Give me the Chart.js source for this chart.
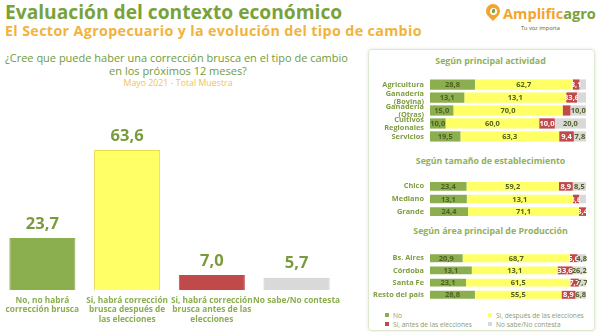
<!DOCTYPE html>
<html>
<head>
<meta charset="utf-8">
<script src="https://cdn.jsdelivr.net/npm/chart.js@4.4.0/dist/chart.umd.min.js"></script>
<style>
  body { margin:0; width:600px; height:332px; background:#fff; position:relative; overflow:hidden; font-family:"Open Sans", sans-serif; }
  .abs { position:absolute; white-space:nowrap; }
  #title { left:5px; top:-2px; font-size:19.2px; font-weight:bold; color:#79a23a; }
  #subtitle { left:5px; top:21px; font-size:14.3px; font-weight:bold; color:#f2b33d; letter-spacing:0.35px; }
  #q1 { left:5px; top:50px; font-size:11px; color:#6f9c3a; }
  #q2 { left:0; width:356px; text-align:center; top:63px; font-size:11px; color:#6f9c3a; }
  #q3 { left:0; width:356px; text-align:center; top:77px; font-size:8.8px; color:#f2c255; }
  #panel { left:368px; top:49px; width:225px; height:280px; border:1px solid #dce9cf; border-radius:4px; box-shadow:0 0 3px rgba(150,180,120,0.35); }
  .sec { left:368px; width:245px; text-align:center; font-size:8.8px; font-weight:bold; color:#8fb15a; }
  .leg { font-size:6.6px; color:#8c9c70; }
  .leg i { display:inline-block; width:4px; height:4px; margin-right:4px; vertical-align:1px; }
  canvas { position:absolute; }
</style>
</head>
<body>
<div class="abs" id="title">Evaluación del contexto económico</div>
<div class="abs" id="subtitle">El Sector Agropecuario y la evolución del tipo de cambio</div>
<div class="abs" id="q1">¿Cree que puede haber una corrección brusca en el tipo de cambio</div>
<div class="abs" id="q2">en los próximos 12 meses?</div>
<div class="abs" id="q3">Mayo 2021 - Total Muestra</div>

<!-- logo -->
<div class="abs" style="left:486px;top:4px;width:14px;height:14px;background:#f3a42c;border-radius:50% 50% 50% 0;transform:rotate(-45deg);"></div>
<div class="abs" style="left:489.5px;top:7.5px;width:7px;height:7px;background:#fff;border-radius:50%;"></div>
<div class="abs" style="left:491.5px;top:9px;width:3.5px;height:3.5px;background:#79a23a;border-radius:50% 0;"></div>
<div class="abs" style="left:503px;top:3px;font-size:14.6px;font-weight:bold;color:#f3a42c;">Amplific<span style="color:#79a23a">agro</span></div>
<div class="abs" style="left:521px;top:24px;font-size:5.6px;color:#4d6a2a;">Tu voz importa</div>

<div class="abs" id="panel"></div>
<div class="abs sec" style="top:55px;">Según principal actividad</div>
<div class="abs sec" style="top:155px;">Según tamaño de establecimiento</div>
<div class="abs sec" style="top:225px;">Según área principal de Producción</div>

<div class="abs leg" style="left:385px;top:311px;"><i style="background:#8bae4f"></i>No</div>
<div class="abs leg" style="left:488px;top:311px;"><i style="background:#ffff66"></i>Si, después de las elecciones</div>
<div class="abs leg" style="left:385px;top:320px;"><i style="background:#c0494a"></i>Si, antes de las elecciones</div>
<div class="abs leg" style="left:488px;top:320px;"><i style="background:#d9d9d9"></i>No sabe/No contesta</div>

<canvas id="totalGraph" width="345" height="207" style="left:0;top:125px;"></canvas>
<canvas id="actividadGraph" width="225" height="85" style="left:365px;top:68px;"></canvas>
<canvas id="tamanoGraph" width="225" height="58" style="left:365px;top:170px;"></canvas>
<canvas id="areaGraph" width="225" height="69" style="left:365px;top:242px;"></canvas>

<script>
// total sample
var totalLabels = [["No, no habrá","corrección brusca"],["Si, habrá corrección","brusca después de","las elecciones"],["Si, habrá corrección","brusca antes de las","elecciones"],"No sabe/No contesta"];
var totalValues = [23.7, 63.6, 7.0, 5.7];

// by activity (bar lengths as drawn, texts as printed)
var actividadLabels = ["Agricultura",["Ganadería","(Bovina)"],["Ganadería","(Otras)"],["Cultivos","Regionales"],"Servicios"];
var actividadNo = [28.8, 22.0, 15.0, 10.0, 19.5];
var actividadDespues = [62.7, 65.3, 70.0, 60.0, 63.3];
var actividadAntes = [4.3, 6.9, 5.0, 10.0, 9.4];
var actividadNs = [4.2, 5.8, 10.0, 20.0, 7.8];
var actividadNoTxt = ["28,8","13,1","15,0","10,0","19,5"];
var actividadDespuesTxt = ["62,7","13,1","70,0","60,0","63,3"];
var actividadAntesTxt = ["3,1","33,6","","10,0","9,4"];
var actividadNsTxt = ["","","10,0","20,0","7,8"];

// by size
var tamanoLabels = ["Chico","Mediano","Grande"];
var tamanoNo = [23.4, 23.6, 24.4];
var tamanoDespues = [59.2, 68.0, 71.1];
var tamanoAntes = [8.9, 3.9, 4.5];
var tamanoNs = [8.5, 4.5, 0];
var tamanoNoTxt = ["23,4","13,1","24,4"];
var tamanoDespuesTxt = ["59,2","13,1","71,1"];
var tamanoAntesTxt = ["8,9","3,6","3,4"];
var tamanoNsTxt = ["8,5","",""];

// by area
var areaLabels = ["Bs. Aires","Córdoba","Santa Fe","Resto del país"];
var areaNo = [20.9, 26.8, 23.1, 28.8];
var areaDespues = [68.7, 55.0, 66.9, 55.5];
var areaAntes = [4.9, 9.6, 5.3, 8.9];
var areaNs = [5.5, 8.6, 4.7, 6.8];
var areaNoTxt = ["20,9","13,1","23,1","28,8"];
var areaDespuesTxt = ["68,7","13,1","61,5","55,5"];
var areaAntesTxt = ["5,6","33,6","7,7","8,9"];
var areaNsTxt = ["4,8","26,2","7,7","6,8"];

var green = "#8bae4f", yellow = "#ffff66", red = "#c0494a", grey = "#d9d9d9";

// value on top of the total bars
var topLabels = {
    id: 'topLabels',
    afterDatasetsDraw: function(chart){
        var ctx = chart.ctx;
        var meta = chart.getDatasetMeta(0);
        ctx.save();
        ctx.font = "bold 16.5px 'Open Sans'";
        ctx.fillStyle = "#7a9b3c";
        ctx.textAlign = "center";
        ctx.textBaseline = "middle";
        meta.data.forEach(function(bar, i){
            ctx.fillText(totalValues[i].toFixed(1).replace('.', ','), bar.x, bar.y - 14);
        });
        ctx.restore();
    }
};

var totalChart = new Chart(document.getElementById("totalGraph"), {
    type: 'bar',
    data: {
        labels: totalLabels,
        datasets: [{
            data: totalValues,
            backgroundColor: [green, yellow, red, grey],
            borderColor: [green, "#e8d84c", red, "#c6c6c6"],
            borderWidth: 1,
            barPercentage: 0.78,
            categoryPercentage: 1
        }]
    },
    options: {
        responsive: false,
        animation: false,
        layout: { padding: { top: 11, bottom: 3, left: 0, right: 0 } },
        plugins: { legend: { display: false }, tooltip: { enabled: false } },
        scales: {
            x: {
                grid: { display: false, drawTicks: false },
                border: { display: false },
                ticks: { maxRotation: 0, autoSkip: false, padding: 5, color: "#8bae4f",
                         font: { family: "'Open Sans'", size: 8.3, weight: 'bold', lineHeight: 1.15 } }
            },
            y: { display: false, min: 0, max: 70 }
        }
    },
    plugins: [topLabels]
});

// numbers inside the stacked segments
var segLabels = {
    id: 'segLabels',
    afterDatasetsDraw: function(chart){
        var ctx = chart.ctx;
        var texts = chart.options.segTexts;
        ctx.save();
        ctx.font = "bold 7.5px 'Open Sans'";
        ctx.textAlign = "center";
        ctx.textBaseline = "middle";
        chart.data.datasets.forEach(function(ds, d){
            var meta = chart.getDatasetMeta(d);
            meta.data.forEach(function(bar, i){
                var t = texts[d][i];
                if (!t) return;
                var x0 = Math.min(bar.base, bar.x), x1 = Math.max(bar.base, bar.x);
                ctx.save();
                ctx.beginPath();
                ctx.rect(x0 - 1, bar.y - bar.height / 2, x1 - x0 + 2, bar.height);
                ctx.clip();
                ctx.fillStyle = d == 2 ? "#fff" : "#4f5f20";
                ctx.fillText(t, (x0 + x1) / 2, bar.y + 0.5);
                ctx.restore();
            });
        });
        ctx.restore();
    }
};

function stackChart(id, labels, no, despues, antes, ns, texts, pct){
    var mk = function(data, color){
        return { data: data, backgroundColor: color, borderWidth: 0, barPercentage: pct, categoryPercentage: 1 };
    };
    return new Chart(document.getElementById(id), {
        type: 'bar',
        data: {
            labels: labels,
            datasets: [mk(no, green), mk(despues, yellow), mk(antes, red), mk(ns, grey)]
        },
        options: {
            indexAxis: 'y',
            responsive: false,
            animation: false,
            segTexts: texts,
            layout: { padding: { left: 0, right: 4, top: 0, bottom: 0 } },
            plugins: { legend: { display: false }, tooltip: { enabled: false } },
            scales: {
                x: { stacked: true, display: false, min: 0, max: 100 },
                y: {
                    stacked: true,
                    grid: { display: false, drawTicks: false },
                    border: { display: false },
                    afterFit: function(axis){ axis.width = 65; },
                    ticks: { padding: 6, color: "#7f9e40", autoSkip: false,
                             font: { family: "'Open Sans'", size: 7.4, weight: 'bold', lineHeight: 1.1 } }
                }
            }
        },
        plugins: [segLabels]
    });
}

var actividadChart = stackChart("actividadGraph", actividadLabels, actividadNo, actividadDespues, actividadAntes, actividadNs,
    [actividadNoTxt, actividadDespuesTxt, actividadAntesTxt, actividadNsTxt], 0.79);
var tamanoChart = stackChart("tamanoGraph", tamanoLabels, tamanoNo, tamanoDespues, tamanoAntes, tamanoNs,
    [tamanoNoTxt, tamanoDespuesTxt, tamanoAntesTxt, tamanoNsTxt], 0.68);
var areaChart = stackChart("areaGraph", areaLabels, areaNo, areaDespues, areaAntes, areaNs,
    [areaNoTxt, areaDespuesTxt, areaAntesTxt, areaNsTxt], 0.65);
</script>
</body>
</html>
